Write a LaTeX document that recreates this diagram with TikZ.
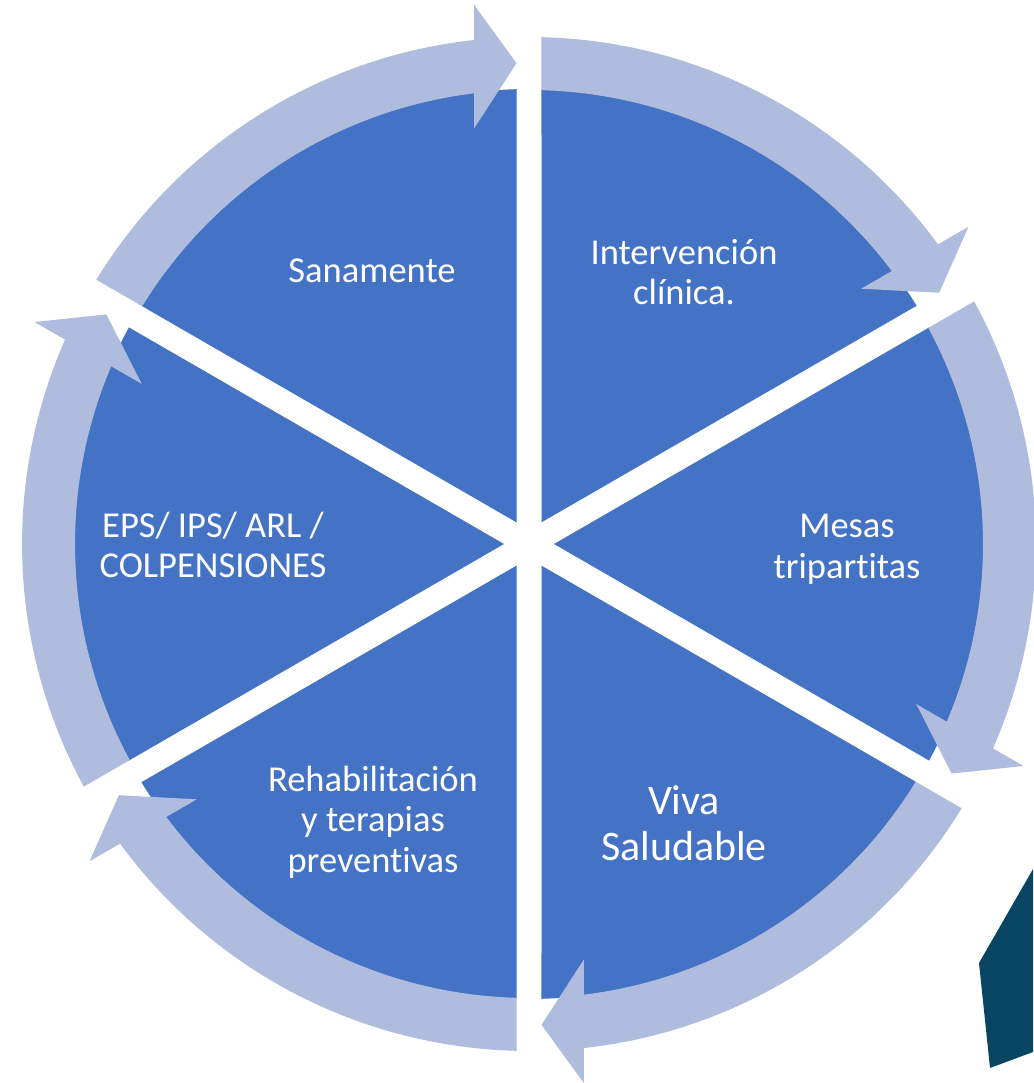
\documentclass[tikz,border=0pt]{standalone}
\usepackage{fontspec}
\setmainfont{Carlito}[Ligatures=NoCommon]
\definecolor{segblue}{HTML}{4472C4}
\definecolor{ringblue}{HTML}{B0BCDE}
\definecolor{darkteal}{HTML}{084563}
\begin{document}
\begin{tikzpicture}[x=1pt,y=1pt,
  seg/.style={fill=segblue,draw=none},
  ringarrow/.style={fill=ringblue,draw=none},
  lbl/.style={text=white,align=center,inner sep=0pt,font=\fontsize{36.5}{40.5}\selectfont},
  biglbl/.style={text=white,align=center,inner sep=0pt,font=\fontsize{42}{46}\selectfont}]
\useasboundingbox (0,0) rectangle (1033,1083);
\fill[white] (0,0) rectangle (1033,1083);
\begin{scope}[shift={(529,539)}]
  % pie segments
  \foreach \a in {90,30,-30,-90,-150,-210}{
    \pgfmathsetmacro{\b}{\a-60}
    \pgfmathsetmacro{\d}{asin(12.5/455)}
    \fill[seg] ({\a-30}:25) -- ({\a-\d}:455)
      arc[start angle={\a-\d}, end angle={\b+\d}, radius=455] -- cycle;
  }
  % circular arrows
  \foreach \s in {90,30,-30,-90,-150,-210}{
    \pgfmathsetmacro{\e}{\s-60}
    \pgfmathsetmacro{\to}{\s-asin(12.5/507)}
    \pgfmathsetmacro{\ti}{\s-asin(12.5/454)}
    \pgfmathsetmacro{\bo}{\e+asin(55/507)}
    \pgfmathsetmacro{\bi}{\e+asin(55/454)}
    \pgfmathsetmacro{\ho}{\e+asin(55/542)}
    \pgfmathsetmacro{\hi}{\e+asin(55/419)}
    \pgfmathsetmacro{\tp}{\e+asin(12.5/481)}
    \fill[ringarrow] (\to:507) arc[start angle=\to, end angle=\bo, radius=507]
      -- (\ho:542) -- (\tp:481) -- (\hi:419) -- (\bi:454)
      arc[start angle=\bi, end angle=\ti, radius=454] -- cycle;
  }
\end{scope}
% dark polygon at bottom right
\fill[darkteal] (1033,214) -- (979,120) -- (990,15) -- (1033,31) -- cycle;
% labels
\node[lbl] (sana) at (372,812) {Sanamente};
\node[lbl] (interv) at (684,811) {Intervención\\clínica.};
\node[lbl] (mesas) at (847,534) {Mesas\\tripartitas};
\node[biglbl] (viva) at (684,260) {Viva\\Saludable};
\node[lbl] (rehab) at (373,261) {Rehabilitación\\y terapias\\preventivas};
\node[lbl] (eps) at (213,538) {EPS/ IPS/ ARL /\\COLPENSIONES};
\end{tikzpicture}
\end{document}
